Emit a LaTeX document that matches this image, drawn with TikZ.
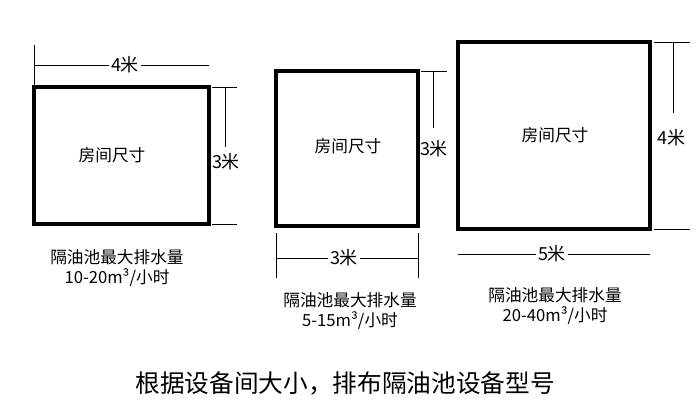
\documentclass[tikz,border=0pt]{standalone}
\usepackage{fontspec}
\setmainfont{Noto Sans CJK SC}
\tikzset{
  room/.style={line width=2.5pt},
  dimline/.style={line width=0.6pt},
  dimtext/.style={inner sep=1.5pt, font=\fontsize{13.5}{15}\selectfont},
  note/.style={inner sep=0pt, align=center, font=\fontsize{12.5}{15.5}\selectfont},
  heading/.style={inner sep=0pt, font=\fontsize{18.5}{22}\selectfont}
}
\begin{document}
\begin{tikzpicture}[x=0.75pt,y=0.75pt,yscale=-1,xscale=1]
\useasboundingbox (0,0) rectangle (700,414);

%Shape: Rectangle [room 1]
\draw[room] (34,87) rectangle (209,224);
%Shape: Rectangle [room 2]
\draw[room] (276,71) rectangle (418,226);
%Shape: Rectangle [room 3]
\draw[room] (458,42) rectangle (650,229);

% Text Node
\node (size1) at (112,155) {\fontsize{12.5}{14}\selectfont 房间尺寸};
% Text Node
\node (size2) at (348,146) {\fontsize{12.5}{14}\selectfont 房间尺寸};
% Text Node
\node (size3) at (555,135) {\fontsize{12.5}{14}\selectfont 房间尺寸};

%Dimension: room 1 width
\coordinate (w1a) at (34,65);
\coordinate (w1b) at (209,65);
\node[dimtext] (w1) at (125,65) {4米};
\draw[dimline] (w1a) -- (w1) -- (w1b);
\draw[dimline] (34,45) -- (34,87);
%Dimension: room 1 height
\draw[dimline] (212,87) -- (237,87);
\draw[dimline] (212,224) -- (237,224);
\coordinate (h1a) at (225,87);
\coordinate (h1b) at (225,147);
\draw[dimline] (h1a) -- (h1b);
\node[dimtext] (h1) at (226,162) {3米};

%Dimension: room 2 height
\draw[dimline] (421,71) -- (447,71);
\coordinate (h2a) at (433,71);
\coordinate (h2b) at (433,128);
\draw[dimline] (h2a) -- (h2b);
\node[dimtext] (h2) at (434,149) {3米};
%Dimension: room 2 width
\draw[dimline] (276,233) -- (276,278);
\draw[dimline] (418,233) -- (418,278);
\coordinate (w2a) at (276,258);
\coordinate (w2b) at (418,258);
\node[dimtext] (w2) at (344,258) {3米};
\draw[dimline] (w2a) -- (w2) -- (w2b);

%Dimension: room 3 height
\draw[dimline] (654,42) -- (690,42);
\draw[dimline] (654,229) -- (690,229);
\coordinate (h3a) at (673,42);
\coordinate (h3b) at (673,113);
\draw[dimline] (h3a) -- (h3b);
\node[dimtext] (h3) at (671,138) {4米};
%Dimension: room 3 width
\coordinate (w3a) at (458,254);
\coordinate (w3b) at (650,254);
\node[dimtext] (w3) at (552,254) {5米};
\draw[dimline] (w3a) -- (w3) -- (w3b);

% Text Node
\node[note] (flow1) at (117,268) {隔油池最大排水量\\10-20m³/小时};
% Text Node
\node[note] (flow2) at (350,311) {隔油池最大排水量\\5-15m³/小时};
% Text Node
\node[note] (flow3) at (555,306) {隔油池最大排水量\\20-40m³/小时};

% Text Node
\node[heading] (title) at (345,383) {根据设备间大小，排布隔油池设备型号};
\end{tikzpicture}
\end{document}
